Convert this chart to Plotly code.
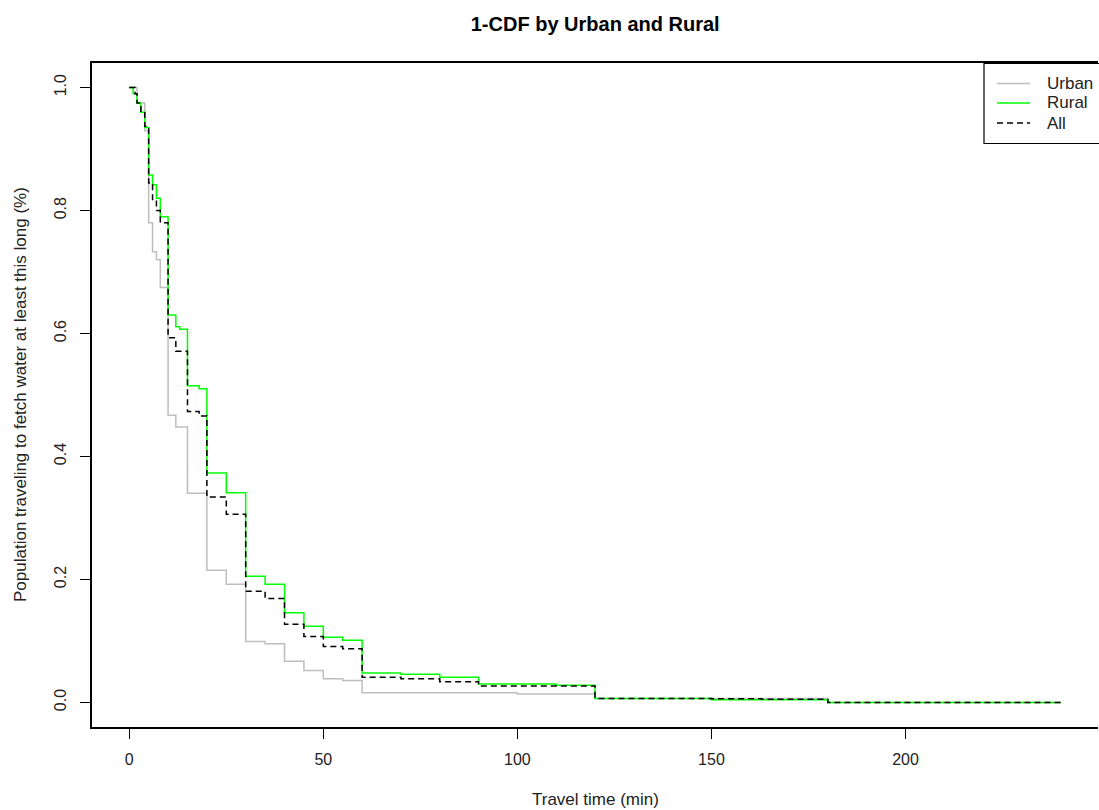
import plotly.graph_objects as go

# ---- data ----
urban_t = [0, 2, 4, 5, 6, 7, 8, 10, 12, 15, 20, 25, 30, 35, 40, 45, 50, 55, 60, 100, 120, 180, 240]
urban_v = [1.0, 0.975, 0.93, 0.78, 0.733, 0.72, 0.675, 0.467, 0.448, 0.340, 0.215, 0.192, 0.099, 0.0955,
           0.067, 0.052, 0.0386, 0.0358, 0.0158, 0.0136, 0.0065, 0.0, 0.0]

rural_t = [0, 1, 2, 3, 4, 5, 6, 7, 8, 10, 12, 13, 15, 18, 20, 25, 30, 35, 40, 45, 50, 55, 60, 70, 80,
           90, 110, 120, 150, 180, 240]
rural_v = [1.0, 0.99, 0.975, 0.96, 0.935, 0.858, 0.842, 0.82, 0.79, 0.630, 0.611, 0.607, 0.515, 0.51,
           0.373, 0.341, 0.205, 0.192, 0.146, 0.124, 0.106, 0.101, 0.048, 0.046, 0.041, 0.030, 0.028,
           0.0065, 0.0044, 0.0, 0.0]

all_t = [0, 1.5, 2, 3, 4, 5, 6, 7, 8, 10, 12, 15, 18, 20, 25, 30, 35, 40, 45, 50, 55, 60, 70, 80, 90,
         120, 150, 163, 180, 240]
all_v = [1.0, 0.99, 0.975, 0.959, 0.937, 0.845, 0.818, 0.80, 0.78, 0.593, 0.571, 0.473, 0.466, 0.334,
         0.306, 0.181, 0.169, 0.127, 0.107, 0.091, 0.0874, 0.041, 0.0386, 0.0337, 0.0266, 0.0065, 0.006,
         0.005, 0.0, 0.0]

series_names = ["Urban", "Rural", "All"]
series_colors = ["#BEBEBE", "#00FF00", "#000000"]
series_dash = ["solid", "solid", "6px,4px"]

x_ticks = [0, 50, 100, 150, 200]
y_ticks = [0.0, 0.2, 0.4, 0.6, 0.8, 1.0]

FONT = "Liberation Sans, Arial, sans-serif"

# plot area geometry in pixels (used to place the hand-drawn legend)
L, R, T, B = 92, 1098, 63, 727
W, H = R - L, B - T


def px(xp):
    return (xp - L) / W


def py(yp):
    return (B - yp) / H


fig = go.Figure()
for t, v, name, col, dash in zip([urban_t, rural_t, all_t], [urban_v, rural_v, all_v],
                                 series_names, series_colors, series_dash):
    fig.add_trace(go.Scatter(x=t, y=v, mode="lines", name=name, line_shape="hv", showlegend=False,
                             line=dict(color=col, width=1.5, dash=dash)))

fig.update_layout(
    width=1099, height=810,
    margin=dict(l=L, r=1099 - R, t=T, b=810 - B, autoexpand=False),
    paper_bgcolor="white", plot_bgcolor="white",
    font=dict(family=FONT, size=16, color="black"),
    title=dict(text="<b>1-CDF by Urban and Rural</b>", x=0.5416, xanchor="center",
               y=1 - 24 / 810, yanchor="middle", yref="container",
               font=dict(family=FONT, size=20, color="black")),
    xaxis=dict(range=[-9.6, 249.6], tickvals=x_ticks, ticks="outside", ticklen=10, tickwidth=1,
               tickcolor="black", showgrid=False, zeroline=False, showline=True, linecolor="black",
               linewidth=1.5, mirror=True, ticklabelstandoff=7,
               tickfont=dict(family=FONT, size=16, color="#222")),
    yaxis=dict(range=[-0.04, 1.04], tickvals=y_ticks, tickformat=".1f", ticks="outside", ticklen=10,
               tickwidth=1, tickcolor="black", showgrid=False, zeroline=False, showline=True,
               linecolor="black", linewidth=1.5, tickangle=-90, ticklabelstandoff=8,
               tickfont=dict(family=FONT, size=16, color="#222")),
    showlegend=False,
)

# axis titles
fig.add_annotation(text="Travel time (min)", xref="paper", yref="paper", x=0.5, y=0,
                   yanchor="middle", yshift=-72, showarrow=False,
                   font=dict(family=FONT, size=17, color="#222"))
fig.add_annotation(text="Population traveling to fetch water at least this long (%)", xref="paper",
                   yref="paper", x=0, y=0.5, xanchor="center", xshift=-72, textangle=-90,
                   showarrow=False, font=dict(family=FONT, size=17, color="#222"))

# legend box (R-style, right side clipped by the image edge)
fig.add_shape(type="rect", xref="paper", yref="paper", x0=px(984), x1=px(1115), y0=py(143.5),
              y1=py(63.5), line=dict(color="black", width=1.2), fillcolor="white", layer="above")
row_y = [83.5, 103, 123]
for name, col, dash, ry in zip(series_names, series_colors, series_dash, row_y):
    fig.add_shape(type="line", xref="paper", yref="paper", x0=px(997), x1=px(1030), y0=py(ry),
                  y1=py(ry), line=dict(color=col, width=1.5, dash=dash), layer="above")
    fig.add_annotation(text=name, xref="paper", yref="paper", x=px(1045), y=py(ry), xanchor="left",
                       yanchor="middle", showarrow=False,
                       font=dict(family=FONT, size=17, color="#222"))

fig.write_html("out.html", config={"displayModeBar": False},
               post_script="document.body.style.margin='0';")
